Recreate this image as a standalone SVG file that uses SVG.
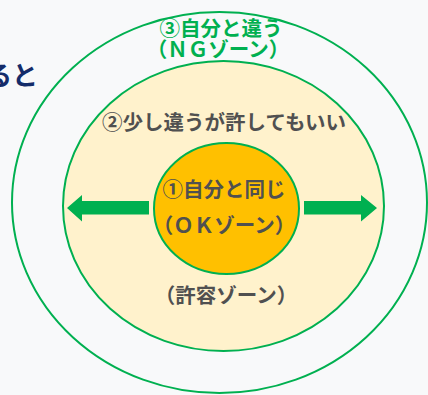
<svg xmlns="http://www.w3.org/2000/svg" width="428" height="395" viewBox="0 0 428 395">
<style>
.ring{stroke:#00B050;stroke-width:2}
.t{font-family:"Noto Sans CJK JP","Noto Sans",sans-serif;font-weight:bold;font-size:20.5px;text-anchor:middle}
.g{fill:#00B050}
.d{fill:#505050}
.arr{fill:#00B050}
</style>
<rect width="428" height="395" fill="#F8F9FA"/>
<text x="38" y="85" font-family="'Noto Sans CJK JP','Noto Sans',sans-serif" font-weight="bold" font-size="26" fill="#142C6A" text-anchor="end">ると</text>
<g id="ng-zone">
<ellipse class="ring" cx="219.5" cy="202.5" rx="207.5" ry="190.5" fill="none"/>
<text class="t g" x="221" y="36">③自分と違う</text>
<text class="t g" x="218" y="57">（ＮＧゾーン）</text>
</g>
<g id="tolerance-zone">
<ellipse class="ring" cx="223.5" cy="206" rx="160.5" ry="145" fill="#FFF2CC"/>
<text class="t d" x="224" y="130">②少し違うが許してもいい</text>
<text class="t d" x="226" y="303">（許容ゾーン）</text>
</g>
<g id="ok-zone">
<ellipse class="ring" cx="226.5" cy="208.5" rx="72.5" ry="65.5" fill="#FFC000"/>
<text class="t d" x="224" y="197">①自分と同じ</text>
<text class="t d" x="224" y="233">（ＯＫゾーン）</text>
</g>
<g id="connectors">
<polygon class="arr" points="67,208 82,195 82,201 149,201 149,214.5 82,214.5 82,221.5"/>
<polygon class="arr" points="377,208 361,195 361,201 304,201 304,214.5 361,214.5 361,221.5"/>
</g>
</svg>
